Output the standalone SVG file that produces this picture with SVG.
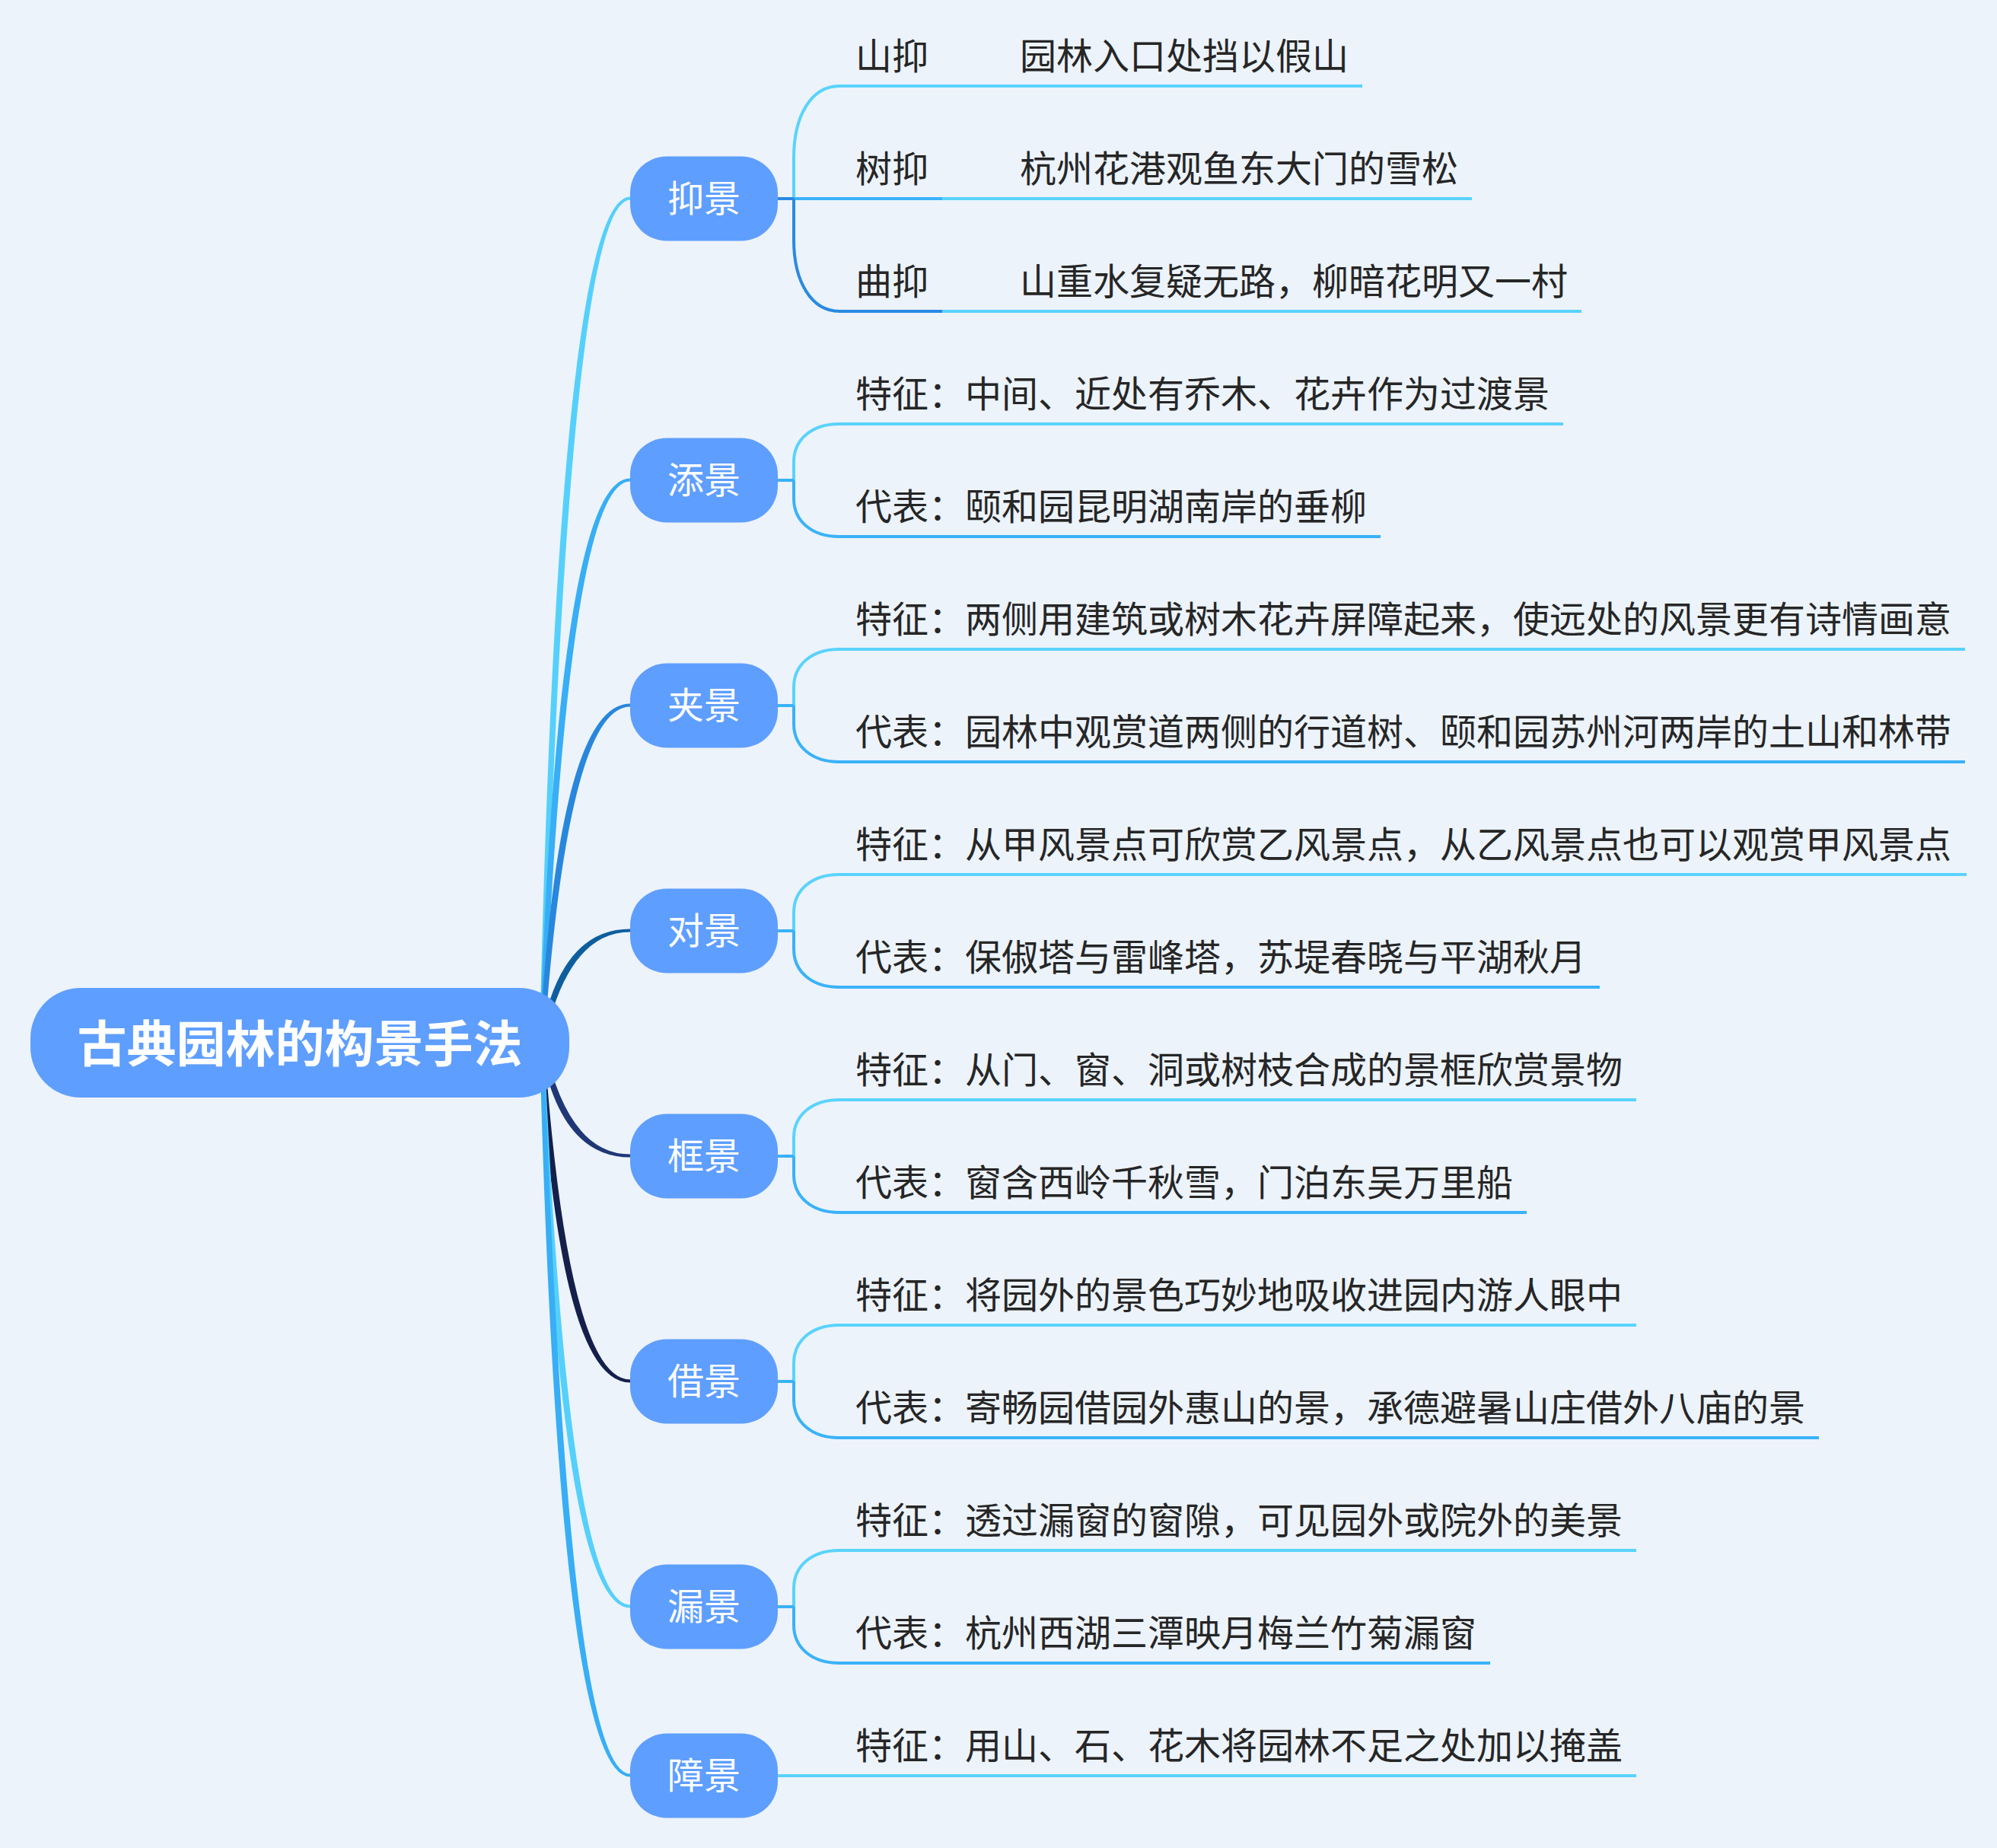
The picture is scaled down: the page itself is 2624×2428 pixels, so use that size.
<svg xmlns="http://www.w3.org/2000/svg" width="2624" height="2428" viewBox="0 0 2624 2428">
<style>
.bg{fill:#ECF3FB}
.root{fill:#5E9EFF}
.n1{fill:#5E9EFF}
.t0{font-family:"Noto Sans CJK SC","Noto Sans",sans-serif;font-size:65px;font-weight:bold;fill:#FFFFFF;text-anchor:middle}
.t1{font-family:"Noto Sans CJK SC","Noto Sans",sans-serif;font-size:48px;fill:#FFFFFF;text-anchor:middle}
.t2{font-family:"Noto Sans CJK SC","Noto Sans",sans-serif;font-size:48px;fill:#262626}
.l{fill:none;stroke-width:4;stroke-linecap:butt}
.c1{stroke:#5AD3FC}
.c2{stroke:#3AB2F8}
.c3{stroke:#2A8AE2}
.f1{fill:#55D0FB}
.f2{fill:#37AEF5}
.f3{fill:#2887DC}
.f4{fill:#0E5E9E}
.f5{fill:#1F3776}
.f6{fill:#151F4B}
</style>
<rect class="bg" x="0" y="0" width="2624" height="2428"/>
<g id="connectors">
  <!-- main tapered branches -->
  <path class="f1" d="M709,1370 Q734,258.5 828,258.5 L828,262.5 Q746,262.5 715,1370 Z"/>
  <path class="f2" d="M709,1370 Q734,628.5 828,628.5 L828,632.5 Q746,632.5 715,1370 Z"/>
  <path class="f3" d="M709,1370 Q734,924.5 828,924.5 L828,928.5 Q746,928.5 715,1370 Z"/>
  <path class="f4" d="M709,1370 Q734,1220.5 828,1220.5 L828,1224.5 Q746,1224.5 715,1370 Z"/>
  <path class="f5" d="M709,1370 Q734,1520.5 828,1520.5 L828,1516.5 Q746,1516.5 715,1370 Z"/>
  <path class="f6" d="M709,1370 Q734,1816.5 828,1816.5 L828,1812.5 Q746,1812.5 715,1370 Z"/>
  <path class="f1" d="M709,1370 Q734,2112.5 828,2112.5 L828,2108.5 Q746,2108.5 715,1370 Z"/>
  <path class="f2" d="M709,1370 Q734,2334.5 828,2334.5 L828,2330.5 Q746,2330.5 715,1370 Z"/>

  <!-- 抑景 -->
  <path class="l c1" d="M1043,261 V207 C1043,150.6 1067,113 1103,113 H1790"/>
  <path class="l c2" d="M1043,261 H1238"/>
  <path class="l c1" d="M1238,261 H1934"/>
  <path class="l c3" d="M1043,261 V315 C1043,371.4 1067,409 1103,409 H1238"/>
  <path class="l c1" d="M1238,409 H2078"/>
  <path class="l c3" d="M1022,261 H1043"/>

  <!-- 添景 cy=631 -->
  <path class="l c1" d="M1043,631 V607 C1043,577 1067,557 1103,557 H2054"/>
  <path class="l c2" d="M1043,631 V655 C1043,685 1067,705 1103,705 H1814"/>
  <path class="l c2" d="M1022,631 H1043"/>

  <!-- 夹景 cy=927 -->
  <path class="l c1" d="M1043,927 V903 C1043,873 1067,853 1103,853 H2582"/>
  <path class="l c2" d="M1043,927 V951 C1043,981 1067,1001 1103,1001 H2582"/>
  <path class="l c2" d="M1022,927 H1043"/>

  <!-- 对景 cy=1223 -->
  <path class="l c1" d="M1043,1223 V1199 C1043,1169 1067,1149 1103,1149 H2584"/>
  <path class="l c2" d="M1043,1223 V1247 C1043,1277 1067,1297 1103,1297 H2102"/>
  <path class="l c2" d="M1022,1223 H1043"/>

  <!-- 框景 cy=1519 -->
  <path class="l c1" d="M1043,1519 V1495 C1043,1465 1067,1445 1103,1445 H2150"/>
  <path class="l c2" d="M1043,1519 V1543 C1043,1573 1067,1593 1103,1593 H2006"/>
  <path class="l c2" d="M1022,1519 H1043"/>

  <!-- 借景 cy=1815 -->
  <path class="l c1" d="M1043,1815 V1791 C1043,1761 1067,1741 1103,1741 H2150"/>
  <path class="l c2" d="M1043,1815 V1839 C1043,1869 1067,1889 1103,1889 H2390"/>
  <path class="l c2" d="M1022,1815 H1043"/>

  <!-- 漏景 cy=2111 -->
  <path class="l c1" d="M1043,2111 V2087 C1043,2057 1067,2037 1103,2037 H2150"/>
  <path class="l c2" d="M1043,2111 V2135 C1043,2165 1067,2185 1103,2185 H1958"/>
  <path class="l c2" d="M1022,2111 H1043"/>

  <!-- 障景 cy=2333 -->
  <path class="l c1" d="M1022,2333 H2150"/>
</g>

<g id="root">
  <rect class="root" x="40" y="1298" width="708" height="144" rx="66" ry="66"/>
  <text class="t0" x="394" y="1395">古典园林的构景手法</text>
</g>

<g id="n-yijing">
  <rect class="n1" x="828" y="205.5" width="194" height="111" rx="48"/>
  <text class="t1" x="925" y="278">抑景</text>
</g>
<g id="n-tianjing">
  <rect class="n1" x="828" y="575.5" width="194" height="111" rx="48"/>
  <text class="t1" x="925" y="648">添景</text>
</g>
<g id="n-jiajing">
  <rect class="n1" x="828" y="871.5" width="194" height="111" rx="48"/>
  <text class="t1" x="925" y="944">夹景</text>
</g>
<g id="n-duijing">
  <rect class="n1" x="828" y="1167.5" width="194" height="111" rx="48"/>
  <text class="t1" x="925" y="1240">对景</text>
</g>
<g id="n-kuangjing">
  <rect class="n1" x="828" y="1463.5" width="194" height="111" rx="48"/>
  <text class="t1" x="925" y="1536">框景</text>
</g>
<g id="n-jiejing">
  <rect class="n1" x="828" y="1759.5" width="194" height="111" rx="48"/>
  <text class="t1" x="925" y="1832">借景</text>
</g>
<g id="n-loujing">
  <rect class="n1" x="828" y="2055.5" width="194" height="111" rx="48"/>
  <text class="t1" x="925" y="2128">漏景</text>
</g>
<g id="n-zhangjing">
  <rect class="n1" x="828" y="2277.5" width="194" height="111" rx="48"/>
  <text class="t1" x="925" y="2350">障景</text>
</g>

<g id="leaves-yijing">
  <text class="t2" x="1124" y="91">山抑</text>
  <text class="t2" x="1340" y="91">园林入口处挡以假山</text>
  <text class="t2" x="1124" y="239">树抑</text>
  <text class="t2" x="1340" y="239">杭州花港观鱼东大门的雪松</text>
  <text class="t2" x="1124" y="387">曲抑</text>
  <text class="t2" x="1340" y="387">山重水复疑无路，柳暗花明又一村</text>
</g>
<g id="leaves-tianjing">
  <text class="t2" x="1124" y="535">特征：中间、近处有乔木、花卉作为过渡景</text>
  <text class="t2" x="1124" y="683">代表：颐和园昆明湖南岸的垂柳</text>
</g>
<g id="leaves-jiajing">
  <text class="t2" x="1124" y="831">特征：两侧用建筑或树木花卉屏障起来，使远处的风景更有诗情画意</text>
  <text class="t2" x="1124" y="979">代表：园林中观赏道两侧的行道树、颐和园苏州河两岸的土山和林带</text>
</g>
<g id="leaves-duijing">
  <text class="t2" x="1124" y="1127">特征：从甲风景点可欣赏乙风景点，从乙风景点也可以观赏甲风景点</text>
  <text class="t2" x="1124" y="1275">代表：保俶塔与雷峰塔，苏堤春晓与平湖秋月</text>
</g>
<g id="leaves-kuangjing">
  <text class="t2" x="1124" y="1423">特征：从门、窗、洞或树枝合成的景框欣赏景物</text>
  <text class="t2" x="1124" y="1571">代表：窗含西岭千秋雪，门泊东吴万里船</text>
</g>
<g id="leaves-jiejing">
  <text class="t2" x="1124" y="1719">特征：将园外的景色巧妙地吸收进园内游人眼中</text>
  <text class="t2" x="1124" y="1867">代表：寄畅园借园外惠山的景，承德避暑山庄借外八庙的景</text>
</g>
<g id="leaves-loujing">
  <text class="t2" x="1124" y="2015">特征：透过漏窗的窗隙，可见园外或院外的美景</text>
  <text class="t2" x="1124" y="2163">代表：杭州西湖三潭映月梅兰竹菊漏窗</text>
</g>
<g id="leaves-zhangjing">
  <text class="t2" x="1124" y="2311">特征：用山、石、花木将园林不足之处加以掩盖</text>
</g>
</svg>
